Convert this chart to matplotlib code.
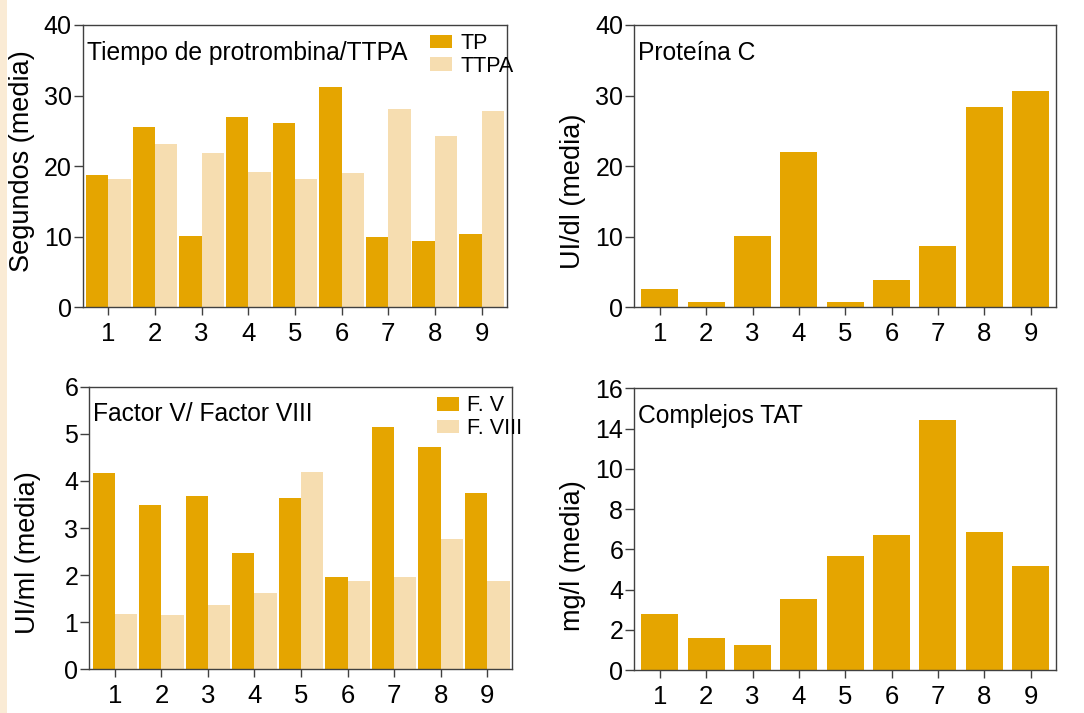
import matplotlib
matplotlib.use("Agg")
import matplotlib.pyplot as plt
import numpy as np
from matplotlib.patches import Rectangle

plt.rcParams['font.family'] = ['Liberation Sans', 'DejaVu Sans']

categories = [1, 2, 3, 4, 5, 6, 7, 8, 9]

# Tiempo de protrombina / TTPA (segundos)
tp = [18.75, 25.55, 10.1, 26.95, 26.1, 31.2, 9.95, 9.4, 10.4]
ttpa = [18.2, 23.15, 21.85, 19.15, 18.2, 19.05, 28.1, 24.25, 27.8]

# Proteína C (UI/dl)
proteina_c = [2.6, 0.75, 10.1, 22.0, 0.75, 3.85, 8.7, 28.4, 30.65]

# Factor V / Factor VIII (UI/ml)
f_v = [4.16, 3.48, 3.67, 2.46, 3.63, 1.95, 5.14, 4.71, 3.74]
f_viii = [1.17, 1.15, 1.36, 1.61, 4.18, 1.87, 1.97, 2.76, 1.87]

# Complejos TAT (mg/l) - values on the drawn axis scale
tat = [2.77, 1.59, 1.24, 3.53, 5.67, 6.71, 12.43, 6.86, 5.17]
tat_ticks = [0, 2, 4, 6, 8, 10, 12, 14]
tat_ticklabels = ['0', '2', '4', '6', '8', '10', '14', '16']

DARK = '#E5A500'
LIGHT = '#F6DDB0'
SPINE = '#404040'

W, H = 1084, 713
fig = plt.figure(figsize=(W / 100, H / 100), dpi=100)
fig.patch.set_facecolor('white')

# left beige stripe
fig.patches.append(Rectangle((0, 0), 7 / W, 1, transform=fig.transFigure,
                             facecolor='#FAEBD5', edgecolor='none', zorder=0))


def px_axes(left, top, right, bottom):
    return fig.add_axes([left / W, (H - bottom) / H, (right - left) / W, (bottom - top) / H])


def style(ax, ylim, yticks, yticklabels=None):
    ax.set_xlim(0.45, 9.54)
    ax.set_ylim(*ylim)
    ax.set_xticks(categories)
    ax.set_xticklabels([str(c) for c in categories])
    ax.set_yticks(yticks)
    if yticklabels is not None:
        ax.set_yticklabels(yticklabels)
    for s in ax.spines.values():
        s.set_color(SPINE)
        s.set_linewidth(1.0)
    ax.tick_params(axis='y', direction='out', length=6.8, width=1.0, color=SPINE,
                   labelsize=18, pad=1.2)
    ax.tick_params(axis='x', direction='out', length=5.5, width=1.0, color=SPINE,
                   labelsize=18.5, pad=5)


xs = np.array(categories, dtype=float)
bw2 = 0.48
bw1 = 0.8
TITLE_FS = 17.7
LEG_KW = dict(frameon=False, fontsize=15.5, borderpad=0, borderaxespad=0,
              handlelength=1.02, handleheight=0.61, handletextpad=0.38, labelspacing=0.08)

# Top-left
ax1 = px_axes(82.7, 25, 506.7, 307.3)
ax1.bar(xs - bw2 / 2, tp, width=bw2, color=DARK, label='TP', linewidth=0)
ax1.bar(xs + bw2 / 2, ttpa, width=bw2, color=LIGHT, label='TTPA', linewidth=0)
style(ax1, (0, 40), [0, 10, 20, 30, 40])
ax1.text(0.011, 0.945, 'Tiempo de protrombina/TTPA', transform=ax1.transAxes,
         fontsize=TITLE_FS, ha='left', va='top')
ax1.legend(loc='upper left', bbox_to_anchor=((430 - 82.7) / 424, 1 - (33 - 25) / 282.3), **LEG_KW)

# Top-right
ax2 = px_axes(634.3, 25, 1055.7, 307.3)
ax2.bar(xs, proteina_c, width=bw1, color=DARK, linewidth=0)
style(ax2, (0, 40), [0, 10, 20, 30, 40])
ax2.text(0.009, 0.945, 'Proteína C', transform=ax2.transAxes,
         fontsize=TITLE_FS, ha='left', va='top')

# Bottom-left
ax3 = px_axes(89.3, 386.7, 512.3, 669.3)
ax3.bar(xs - bw2 / 2, f_v, width=bw2, color=DARK, label='F. V', linewidth=0)
ax3.bar(xs + bw2 / 2, f_viii, width=bw2, color=LIGHT, label='F. VIII', linewidth=0)
style(ax3, (0, 6), [0, 1, 2, 3, 4, 5, 6])
ax3.text(0.008, 0.945, 'Factor V/ Factor VIII', transform=ax3.transAxes,
         fontsize=TITLE_FS, ha='left', va='top')
ax3.legend(loc='upper left', bbox_to_anchor=((437.3 - 89.3) / 423, 1 - (395.3 - 386.7) / 282.6), **LEG_KW)

# Bottom-right
ax4 = px_axes(634.3, 388.3, 1055.7, 670)
ax4.bar(xs, tat, width=bw1, color=DARK, linewidth=0)
style(ax4, (0, 14), tat_ticks, tat_ticklabels)
ax4.text(0.008, 0.945, 'Complejos TAT', transform=ax4.transAxes,
         fontsize=TITLE_FS, ha='left', va='top')

# y labels
ylab_kw = dict(rotation=90, ha='center', va='center', fontsize=19.5)
fig.text(21.7 / W, 1 - 161 / H, 'Segundos (media)', **ylab_kw)
fig.text(573 / W, 1 - 191 / H, 'UI/dl (media)', **ylab_kw)
fig.text(28.3 / W, 1 - 553 / H, 'UI/ml (media)', **ylab_kw)
fig.text(573 / W, 1 - 556 / H, 'mg/l (media)', **ylab_kw)

fig.savefig('out.png', dpi=100)
